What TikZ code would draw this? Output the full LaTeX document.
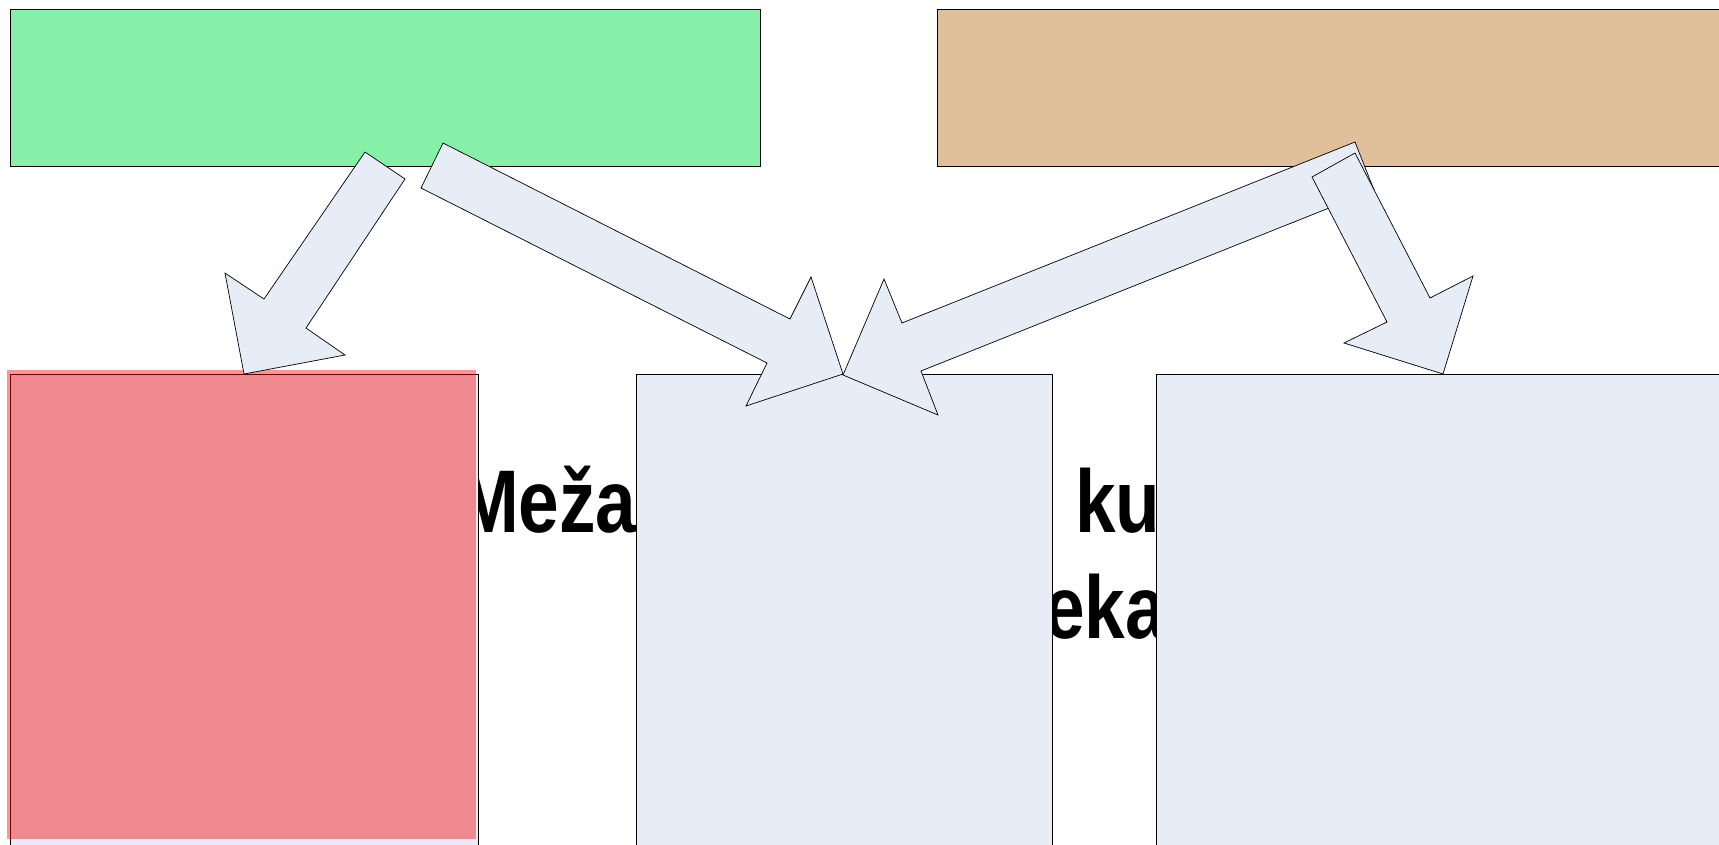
\documentclass[tikz,border=0pt]{standalone}
\usepackage{fontspec}
\setmainfont{Liberation Sans}
\definecolor{boxgreen}{RGB}{135,240,168}
\definecolor{boxtan}{RGB}{224,192,154}
\definecolor{boxblue}{RGB}{230,237,247}
\tikzset{
  panel/.style={draw=black, line width=0.8pt, inner sep=0pt, outer sep=0pt, anchor=north west},
  blockarrow/.style={fill=boxblue, draw=black, line width=0.7pt, line join=miter},
  overlay/.style={fill=red, fill opacity=0.42, inner sep=0pt, outer sep=0pt, anchor=north west},
  bigtext/.style={inner sep=0pt, outer sep=0pt, anchor=base west, font=\fontsize{89}{106}\selectfont\bfseries}
}
\begin{document}
\begin{tikzpicture}[x=1pt, y=-1pt]
\clip (0,0) rectangle (1719,844);
\fill[white] (0,0) rectangle (1719,844);
% top boxes
\node[panel, fill=boxgreen, minimum width=750pt, minimum height=157pt] (green) at (10,9) {};
\node[panel, fill=boxtan, minimum width=820pt, minimum height=157pt] (tan) at (937,9) {};
% text behind boxes
\node[bigtext] (t1) at (458,532) {\scalebox{0.82}[1]{Meža}};
\node[bigtext] (t2) at (1075,532) {\scalebox{0.82}[1]{ku}};
\node[bigtext] (t3) at (1044,638) {\scalebox{0.82}[1]{eka}};
% lower boxes
\node[panel, fill=boxblue, minimum width=468pt, minimum height=500pt] (left) at (10,374) {};
\node[panel, fill=boxblue, minimum width=416pt, minimum height=500pt] (mid) at (636,374) {};
\node[panel, fill=boxblue, minimum width=600pt, minimum height=500pt] (right) at (1156,374) {};
\node[overlay, minimum width=469pt, minimum height=469pt] (redover) at (7,370) {};
% block arrows
\filldraw[blockarrow] (365,152) -- (405,179) -- (306,328) -- (345,355) -- (244,374) -- (225,273) -- (264,299) -- cycle;
\filldraw[blockarrow] (443,143) -- (421,188) -- (767,363) -- (746,406) -- (843,374) -- (811,277) -- (790,319) -- cycle;
\filldraw[blockarrow] (1355,142) -- (1374,190) -- (921,371) -- (938,415) -- (843,375) -- (884,279) -- (902,323) -- cycle;
\filldraw[blockarrow] (1312,177) -- (1355,153) -- (1430,298) -- (1473,276) -- (1443,374) -- (1344,343) -- (1387,322) -- cycle;
\end{tikzpicture}
\end{document}
